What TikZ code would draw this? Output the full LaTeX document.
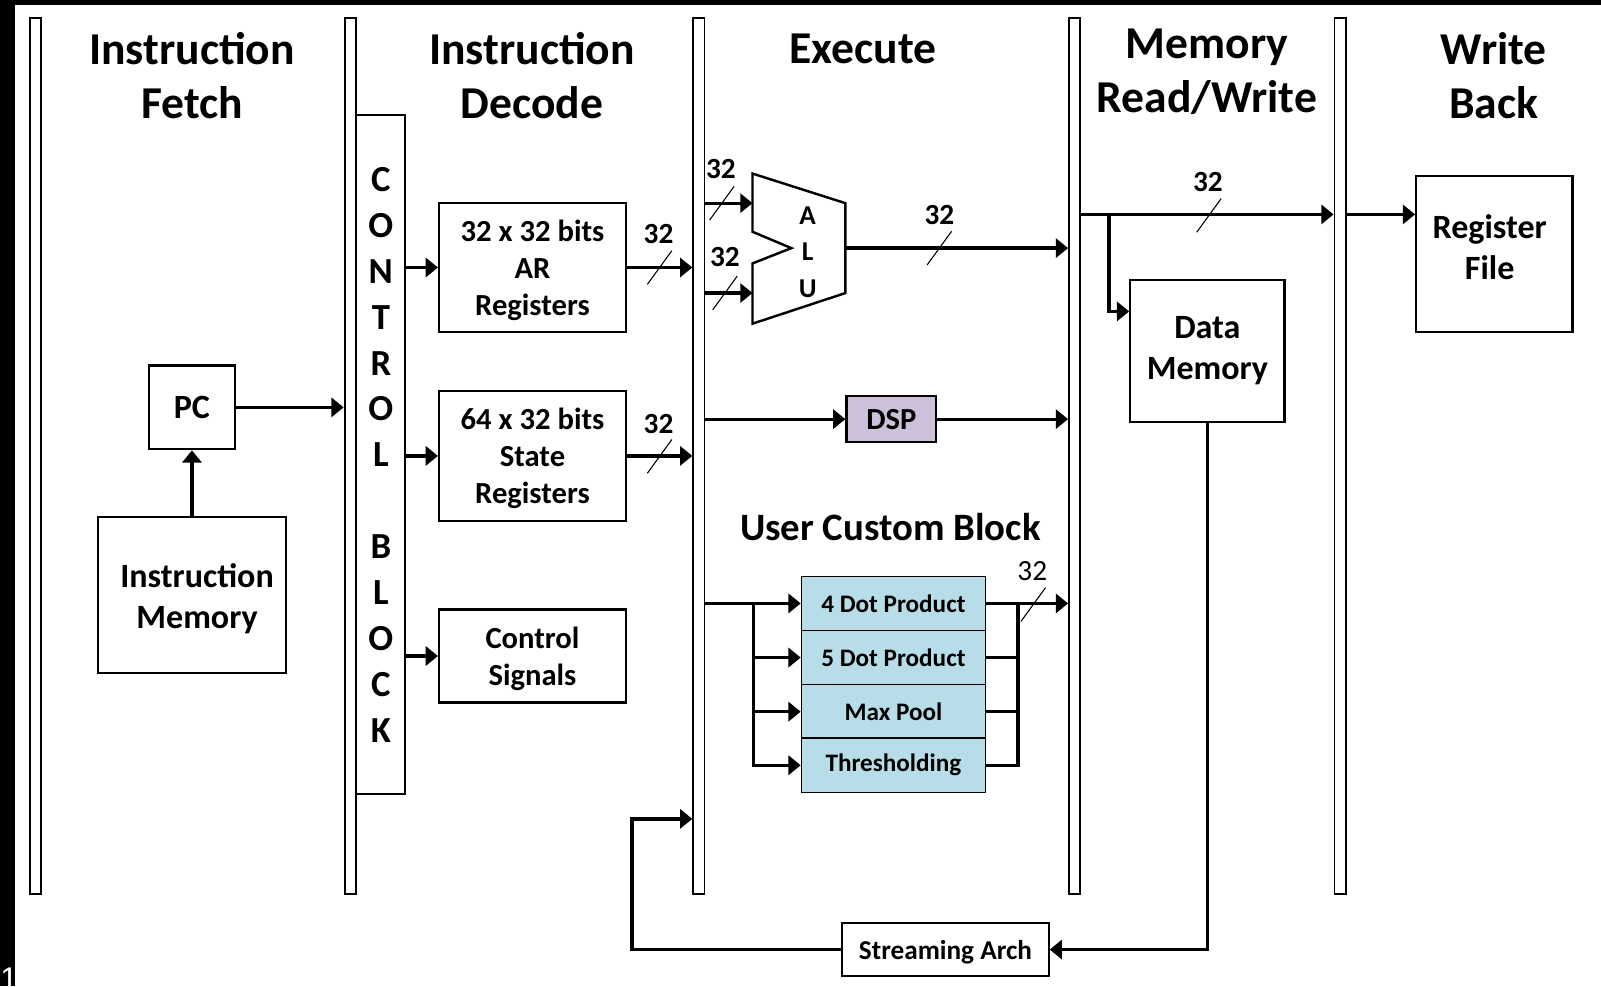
\documentclass[tikz,border=0pt]{standalone}
\usepackage{fontspec}
\setmainfont{Carlito}
\newfontfamily\pagefont{Liberation Sans}
\usetikzlibrary{arrows.meta}
\definecolor{dspfill}{HTML}{CCC0DA}
\definecolor{cellfill}{HTML}{B7DEE8}
\newcommand\busmark[1]{\draw[slash] (#1) ++(-12,16.5) -- ++(24,-33);}
\begin{document}
\begin{tikzpicture}[x=0.75pt,y=-0.75pt,
  box/.style={draw, line width=1.6pt, inner sep=0pt, align=center},
  bar/.style={draw, line width=1.4pt, inner sep=0pt, minimum width=8.25pt, minimum height=643.5pt},
  conn/.style={line width=2.4pt},
  arr/.style={conn, -{Triangle[length=9pt,width=14pt]}},
  slash/.style={line width=0.8pt},
  hdr/.style={font=\bfseries\fontsize{33.5}{39.5}\selectfont, anchor=base, inner sep=0pt, align=center},
  bits/.style={font=\bfseries\fontsize{21.5}{26}\selectfont, inner sep=0pt},
  regtxt/.style={font=\bfseries\fontsize{22.5}{27}\selectfont, text depth=0pt},
  bigtxt/.style={font=\bfseries\fontsize{25}{30}\selectfont},
  celltxt/.style={font=\bfseries\fontsize{18.5}{22}\selectfont},
  cell/.style={box, fill=cellfill, line width=1.2pt, minimum width=135pt, minimum height=39.75pt, celltxt}
]
\useasboundingbox (0,0) rectangle (1568,966);
% frame
\fill[black] (0,0) rectangle (1568,966);
\fill[white] (14.5,5) rectangle (1568,966);
\node[anchor=base west, inner sep=0pt, text=white, font=\pagefont\fontsize{23}{26}\selectfont] (pageno) at (0,969) {1};

% pipeline registers
\node[bar] (bar1) at (34.5,447) {};
\node[bar] (bar2) at (343,447) {};
\node[bar] (bar3) at (684.5,447) {};
\node[bar] (bar4) at (1052.5,447) {};
\node[bar] (bar5) at (1312.5,447) {};

% stage headings (anchored at the baseline of the last line)
\node[hdr] (hIF) at (188,116) {Instruction\\Fetch};
\node[hdr] (hID) at (521,116) {Instruction\\Decode};
\node[hdr] (hEX) at (845,62) {Execute};
\node[hdr] (hMEM) at (1182,110) {Memory\\Read/Write};
\node[hdr] (hWB) at (1463,116) {Write\\Back};

% fetch
\node[box, bigtxt, minimum width=63pt, minimum height=61.5pt] (PC) at (188,399) {PC};
\node[box, minimum width=138pt, minimum height=114.75pt] (IM) at (188,582.5) {};
\node[bigtxt, align=center, inner sep=0pt] (IMtxt) at (193,586.5) {Instruction\\Memory};

% decode
\node[box, minimum width=36pt, minimum height=498.75pt, font=\bfseries\fontsize{27}{33.75}\selectfont] (CB) at (373,445.5)
  {C\\O\\N\\T\\R\\O\\L\\[33.75pt]B\\L\\O\\C\\K};
\node[box, regtxt, minimum width=137.25pt, minimum height=94.5pt] (AR) at (521.5,262) {32 x 32 bits\\AR\\Registers};
\node[box, regtxt, minimum width=137.25pt, minimum height=95.25pt] (ST) at (521.5,446.5) {64 x 32 bits\\State\\Registers};
\node[box, regtxt, minimum width=137.25pt, minimum height=68.25pt] (CS) at (521.5,642.5) {Control\\Signals};

% execute
\draw[line width=1.8pt, line join=miter] (737,170) -- (828,199) -- (828,287) -- (737,317) -- (737,258) -- (775,243) -- (737,227) -- cycle;
\node[align=center, inner sep=0pt, font=\bfseries\fontsize{20}{26.6}\selectfont] (ALU) at (791,247) {A\\L\\U};
\coordinate (aluA) at (737,199);
\coordinate (aluB) at (737,287);
\coordinate (aluO) at (828,243);
\node[box, regtxt, fill=dspfill, minimum width=66pt, minimum height=33.75pt] (DSP) at (873,410.5) {DSP};
\node[font=\bfseries\fontsize{28.5}{33}\selectfont, inner sep=0pt] (UCB) at (872,516) {User Custom Block};
\node[cell] (c1) at (875,591) {4 Dot Product};
\node[cell] (c2) at (875,644) {5 Dot Product};
\node[cell] (c3) at (875,697) {Max Pool};
\node[cell] (c4) at (875,749.5) {Thresholding};

% memory and write back
\node[box, bigtxt, minimum width=113.25pt, minimum height=104.25pt] (DM) at (1182.5,343.5) {Data\\Memory};
\node[box, minimum width=114.75pt, minimum height=114.75pt] (RF) at (1463.5,248.5) {};
\node[bigtxt, align=center, inner sep=0pt] (RFtxt) at (1459,242) {Register\\File};
\node[box, font=\bfseries\fontsize{20}{24}\selectfont, text depth=0pt, minimum width=151.5pt, minimum height=39pt] (SA) at (926,930) {Streaming Arch};

% fetch connections
\draw[arr] (IM.north) -- (PC.south);
\draw[arr] (PC.east) -- (PC.east -| bar2.west);

% decode connections
\draw[arr] (CB.east |- AR.west) -- (AR.west);
\draw[arr] (CB.east |- ST.west) -- (ST.west);
\draw[arr] (CB.east |- CS.west) -- (CS.west);
\draw[arr] (AR.east) -- (AR.east -| bar3.west);
\draw[arr] (ST.east) -- (ST.east -| bar3.west);
\node[bits] (wAR) at (645,229) {32};
\busmark{646,262}
\node[bits] (wST) at (645,415) {32};
\busmark{646,447}

% execute connections
\draw[arr] (bar3.east |- aluA) -- (aluA);
\draw[arr] (bar3.east |- aluB) -- (aluB);
\draw[arr] (aluO) -- (aluO -| bar4.west);
\node[bits] (wA) at (706,166) {32};
\busmark{707,199}
\node[bits] (wB) at (710,252) {32};
\busmark{710,287}
\node[bits] (wO) at (920,211) {32};
\busmark{920,243}
\draw[arr] (bar3.east |- DSP.west) -- (DSP.west);
\draw[arr] (DSP.east) -- (DSP.east -| bar4.west);

\coordinate (splitIn) at (738,591);
\draw[arr] (bar3.east |- c1.west) -- (c1.west);
\draw[arr] (splitIn) |- (c4.west);
\draw[arr] (splitIn |- c2.west) -- (c2.west);
\draw[arr] (splitIn |- c3.west) -- (c3.west);
\coordinate (merge) at (997,591);
\draw[conn] (c4.east) -| (merge);
\draw[conn] (c2.east) -- (c2.east -| merge);
\draw[conn] (c3.east) -- (c3.east -| merge);
\draw[arr] (c1.east) -- (c1.east -| bar4.west);
\node[inner sep=0pt, font=\fontsize{21.5}{26}\selectfont] (wC) at (1011,559) {32};
\busmark{1012,592}

% memory connections
\coordinate (memBus) at (1086,210);
\draw[arr] (bar4.east |- memBus) -- (bar5.west |- memBus);
\draw[arr] (memBus) |- (DM.west |- 0,305);
\node[bits] (wM) at (1183,178) {32};
\busmark{1184,211}
\draw[arr] (DM.south) |- (SA.east);
\coordinate (loop) at (619,802);
\draw[arr] (SA.west) -| (loop) -- (loop -| bar3.west);

% write back
\draw[arr] (bar5.east |- memBus) -- (RF.west |- memBus);
\end{tikzpicture}
\end{document}
